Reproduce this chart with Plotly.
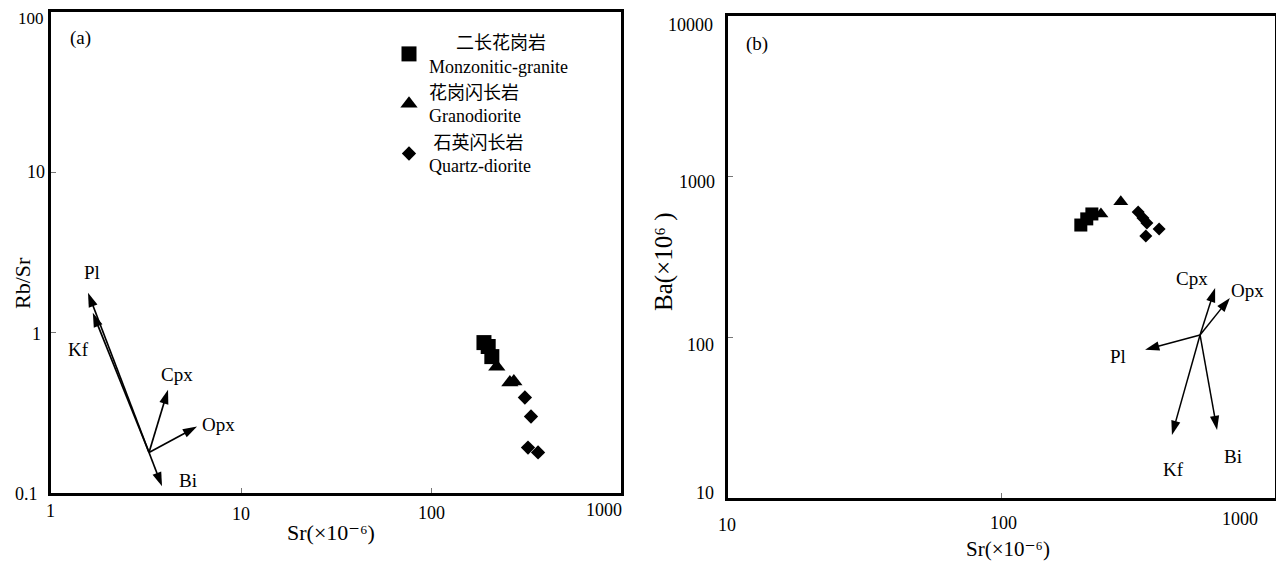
import numpy as np
import plotly.graph_objects as go

# page body has an 8px default margin -> figure is 8px smaller and offset
OFF = 8
W, H = 1284 - OFF, 563 - OFF

# ---------------- data ----------------
# Panel (a): Sr (ppm) vs Rb/Sr
a_mg_sr = [190, 200, 209]
a_mg_rbsr = [0.867, 0.82, 0.709]
a_gd_sr = [222, 260, 273]
a_gd_rbsr = [0.614, 0.488, 0.496]
a_qd_sr = [312, 336, 324, 366]
a_qd_rbsr = [0.394, 0.30, 0.192, 0.179]

# Panel (b): Sr (ppm) vs Ba (ppm)
b_mg_sr = [195, 205, 214]
b_mg_ba = [500, 546, 586]
b_gd_sr = [231, 273]
b_gd_ba = [586, 697]
b_qd_sr = [316, 329, 340, 337, 377]
b_qd_ba = [603, 553, 515, 427, 473]

# Mineral fractionation vectors
minerals = ["Pl", "Kf", "Cpx", "Opx", "Bi"]
a_vec_origin_sr, a_vec_origin_rbsr = 3.28, 0.179
a_vec_tip_sr = [1.566, 1.66, 4.13, 5.87, 3.84]
a_vec_tip_rbsr = [1.775, 1.33, 0.441, 0.26, 0.11]
a_lab_sr = [1.64, 1.39, 4.6, 7.57, 5.26]
a_lab_rbsr = [2.37, 0.783, 0.547, 0.267, 0.12]

b_vec_origin_sr, b_vec_origin_ba = 532, 103.5
b_vec_tip_sr = [335, 420, 604, 684, 614]
b_vec_tip_ba = [83.6, 24.7, 203, 176, 26.5]
b_lab_sr = [267, 424, 497, 796, 702]
b_lab_ba = [75.5, 15, 234, 197, 18]

series_names = [
    ("二长花岗岩", "Monzonitic-granite", 6),
    ("花岗闪长岩", "Granodiorite", 0),
    ("石英闪长岩", "Quartz-diorite", 1),
]
symbols = ["square", "triangle-up", "diamond"]
a_sizes = [15, 15, 11]
b_sizes = [13, 13, 10]

a_xticks = [1, 10, 100, 1000]
a_yticks = [0.1, 1, 10, 100]
b_xticks = [10, 100, 1000]
b_yticks = [10, 100, 1000, 10000]

SERIF = "Liberation Serif, Times New Roman, Noto Sans CJK SC, DejaVu Serif, serif"


def fx(px):
    return (px - OFF) / W


def fy(py):
    return 1 - (py - OFF) / H


# ---------------- figure ----------------
fig = go.Figure()

a_data = [(a_mg_sr, a_mg_rbsr), (a_gd_sr, a_gd_rbsr), (a_qd_sr, a_qd_rbsr)]
b_data = [(b_mg_sr, b_mg_ba), (b_gd_sr, b_gd_ba), (b_qd_sr, b_qd_ba)]

for i, ((cn, en, pad), sym) in enumerate(zip(series_names, symbols)):
    name = "\u00a0" * pad + cn + "<br>" + en
    xs, ys = a_data[i]
    fig.add_trace(go.Scatter(x=xs, y=ys, mode="markers", name=name,
                             legendgroup=f"g{i}",
                             marker=dict(symbol=sym, size=a_sizes[i], color="black"),
                             xaxis="x", yaxis="y"))
    xs, ys = b_data[i]
    fig.add_trace(go.Scatter(x=xs, y=ys, mode="markers", name=name,
                             legendgroup=f"g{i}", showlegend=False,
                             marker=dict(symbol=sym, size=b_sizes[i], color="black"),
                             xaxis="x2", yaxis="y2"))

# vectors panel (a)
for tx, ty in zip(a_vec_tip_sr, a_vec_tip_rbsr):
    fig.add_trace(go.Scatter(x=[a_vec_origin_sr, tx], y=[a_vec_origin_rbsr, ty],
                             mode="lines+markers", showlegend=False, hoverinfo="skip",
                             line=dict(color="black", width=1.7),
                             marker=dict(symbol="arrow", size=15, angleref="previous",
                                         color="black"),
                             xaxis="x", yaxis="y"))
# vectors panel (b)
for tx, ty in zip(b_vec_tip_sr, b_vec_tip_ba):
    fig.add_trace(go.Scatter(x=[b_vec_origin_sr, tx], y=[b_vec_origin_ba, ty],
                             mode="lines+markers", showlegend=False, hoverinfo="skip",
                             line=dict(color="black", width=1.5),
                             marker=dict(symbol="arrow", size=15, angleref="previous",
                                         color="black"),
                             xaxis="x2", yaxis="y2"))

annotations = []


def px_ann(text, px, py, size=18, **kw):
    d = dict(text=text, x=fx(px), y=fy(py), xref="paper", yref="paper",
             showarrow=False, xanchor="center", yanchor="middle",
             font=dict(family=SERIF, size=size, color="black"))
    d.update(kw)
    annotations.append(d)


# mineral labels (data coords; log axes take log10 positions)
for m, lx, ly in zip(minerals, a_lab_sr, a_lab_rbsr):
    annotations.append(dict(text=m, x=np.log10(lx), y=np.log10(ly), xref="x", yref="y",
                            showarrow=False, font=dict(family=SERIF, size=19, color="black")))
for m, lx, ly in zip(minerals, b_lab_sr, b_lab_ba):
    annotations.append(dict(text=m, x=np.log10(lx), y=np.log10(ly), xref="x2", yref="y2",
                            showarrow=False, font=dict(family=SERIF, size=19, color="black")))

# tick labels panel (a)
a_xtick_px = [(50, 511), (241, 514), (431, 513), (604, 510)]
for v, (px, py) in zip(a_xticks, a_xtick_px):
    px_ann(str(v), px, py)
a_ytick_px = [(26, 494), (36, 334), (36, 172), (31, 18)]
for v, (px, py) in zip(a_yticks, a_ytick_px):
    px_ann(str(v), px, py, size=17 if v == 100 else 18)
# tick labels panel (b)
b_xtick_px = [(727, 525), (1003, 523), (1240, 519)]
for v, (px, py) in zip(b_xticks, b_xtick_px):
    px_ann(str(v), px, py)
b_ytick_px = [(705, 493), (700, 345), (697, 182), (690, 25)]
for v, (px, py) in zip(b_yticks, b_ytick_px):
    px_ann(str(v), px, py)

# titles / panel letters
px_ann("Sr(×10⁻⁶)", 331, 532, size=22)
px_ann("Sr(×10⁻⁶)", 1008, 549, size=21)
px_ann("Rb/Sr", 22, 283, size=22, textangle=-90)
px_ann("Ba(×10⁶ )", 664, 262, size=25, textangle=-90)
px_ann("(a)", 80, 38, size=19)
px_ann("(b)", 757, 44, size=19)

axis_common = dict(type="log", showline=True, mirror=True, linecolor="black",
                   linewidth=2.5, ticks="inside", ticklen=5, tickcolor="#777",
                   tickwidth=1, showticklabels=False, showgrid=False, zeroline=False)

fig.update_layout(
    width=W, height=H,
    margin=dict(l=0, r=0, t=0, b=0),
    paper_bgcolor="white", plot_bgcolor="white",
    xaxis=dict(axis_common, range=[0, 3], domain=[fx(51), fx(621)], anchor="y",
               tickvals=[10, 100]),
    yaxis=dict(axis_common, range=[-1, 2], domain=[fy(493), fy(12)], anchor="x",
               tickvals=[1, 10]),
    xaxis2=dict(axis_common, range=[1, 3], domain=[fx(728), fx(1275)], anchor="y2",
                tickvals=[100]),
    yaxis2=dict(axis_common, range=[1, 4], domain=[fy(498), fy(16)], anchor="x2",
                tickvals=[100, 1000]),
    showlegend=True,
    legend=dict(x=fx(389), xanchor="left", y=fy(24), yanchor="top",
                bgcolor="rgba(0,0,0,0)", font=dict(family=SERIF, size=18, color="black"),
                tracegroupgap=0, itemsizing="trace"),
    annotations=annotations,
)

fig.write_html("out.html")
